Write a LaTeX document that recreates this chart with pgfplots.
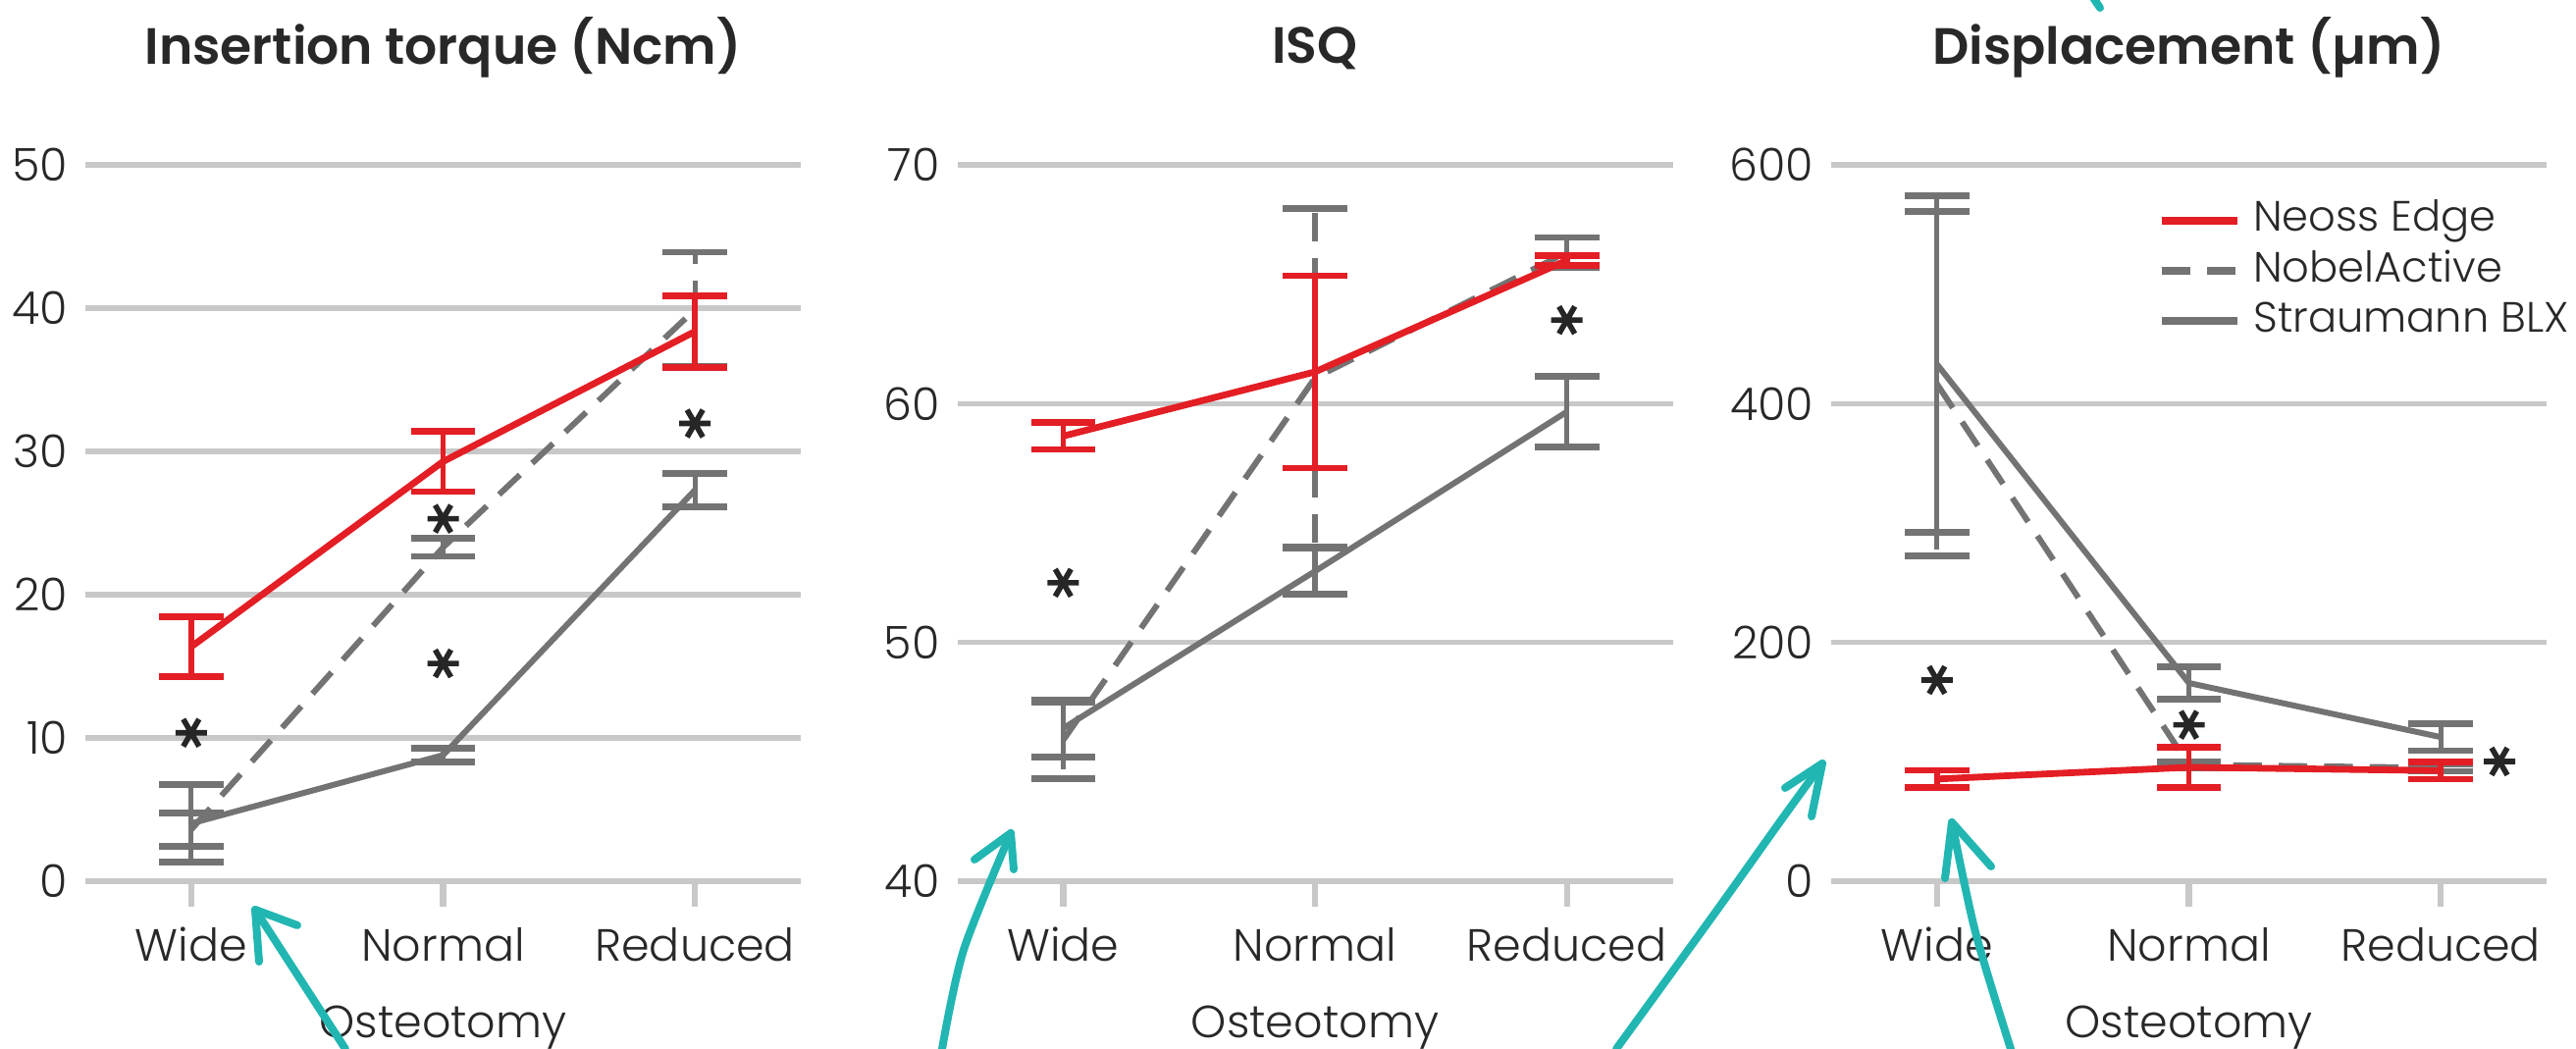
\documentclass[border=0pt]{standalone}
\usepackage{fontspec}
\setmainfont{Poppins}[UprightFont=* Light, BoldFont=* SemiBold]
\usepackage{pgfplots}
\pgfplotsset{compat=1.18}

\definecolor{neossred}{RGB}{227,30,36}
\definecolor{sgray}{RGB}{115,115,115}
\definecolor{gridgray}{RGB}{200,200,200}
\definecolor{txt}{RGB}{40,40,40}
\definecolor{arrowteal}{RGB}{33,182,178}

\newcommand\ticksize{\fontsize{11.5}{14}\selectfont}
\newcommand\legsize{\fontsize{10.8}{13}\selectfont}
\newcommand\titlesize{\fontsize{13}{16}\selectfont\bfseries}

\pgfplotsset{
  panel/.style={
    scale only axis, width=182.25pt, height=182.5pt,
    xmin=-0.42, xmax=2.42,
    xtick={0,1,2}, xticklabels={Wide,Normal,Reduced},
    axis line style={draw=none},
    ymajorgrids, grid style={line width=1.3pt, gridgray},
    xtick pos=bottom, xtick align=outside, ytick pos=left,
    x tick style={gridgray, line width=1.6pt},
    y tick style={draw=none},
    major tick length=6.5pt,
    tick label style={font=\ticksize, text=txt},
    yticklabel style={anchor=east, inner sep=0pt, xshift=-4.25pt},
    xticklabel style={anchor=base, yshift=-14pt},
    xlabel={Osteotomy},
    xlabel style={at={(axis description cs:0.5,0)}, anchor=base, yshift=-40pt,
                  font=\ticksize, text=txt},
    title style={at={(axis description cs:0.5,1)}, anchor=base, yshift=19.75pt,
                 font=\titlesize, text=txt},
    clip=false,
    /pgf/number format/assume math mode=true,
    anchor=south west,
  },
  neoss/.style={neossred, line width=1.7pt, mark=none,
    error bars/.cd, y dir=both, y explicit,
    error bar style={line width=1.4pt},
    error mark options={rotate=90, mark size=8.2pt, line width=1.7pt}},
  nobel/.style={sgray, line width=1.5pt, mark=none, dash pattern=on 7.3pt off 4.3pt,
    error bars/.cd, y dir=both, y explicit,
    error bar style={line width=1.3pt, dash pattern=on 7.3pt off 4.3pt},
    error mark options={rotate=90, mark size=8.2pt, line width=1.7pt}},
  straumann/.style={sgray, line width=1.5pt, mark=none,
    error bars/.cd, y dir=both, y explicit,
    error bar style={line width=1.3pt},
    error mark options={rotate=90, mark size=8.2pt, line width=1.7pt}},
  stars/.style={only marks, mark=asterisk, black!85,
    mark options={rotate=90, line width=1.4pt, solid}, mark size=4pt, forget plot},
}

\begin{document}
\begin{tikzpicture}
\useasboundingbox (-21.75pt,-42.75pt) rectangle (634.5pt,224.5pt);

% Insertion torque
\begin{axis}[panel, at={(0pt,0pt)}, title={Insertion torque (Ncm)},
  ymin=0, ymax=50, ytick={0,10,20,30,40,50}]
\addplot[straumann] coordinates {(0,4.03) +- (0,2.69) (1,8.8) +- (0,0.5) (2,27.3) +- (0,1.15)};
\addplot[nobel] coordinates {(0,3.6) +- (0,1.15) (1,23.3) +- (0,0.63) (2,39.9) +- (0,4.0)};
\addplot[neoss] coordinates {(0,16.36) +- (0,2.1) (1,29.29) +- (0,2.1) (2,38.37) +- (0,2.5)};
\addplot[stars] coordinates {(0,10.36) (1,25.3) (1,15.2) (2,31.95)};
\end{axis}

% ISQ
\begin{axis}[panel, at={(222.125pt,0pt)}, title={ISQ},
  ymin=40, ymax=70, ytick={40,50,60,70}]
\addplot[straumann] coordinates {(0,46.4) +- (0,1.2) (1,52.98) +- (0,0.95) (2,59.66) +- (0,1.47)};
\addplot[nobel] coordinates {(0,45.9) +- (0,1.6) (1,61.08) +- (0,7.1) (2,66.33) +- (0,0.63)};
\addplot[neoss] coordinates {(0,58.64) +- (0,0.56) (1,61.33) +- (0,4.03) (2,66.0) +- (0,0.2)};
\addplot[stars] coordinates {(0,52.5) (2,63.5)};
\end{axis}

% Displacement
\begin{axis}[panel, at={(444.75pt,0pt)}, title={Displacement (µm)},
  ymin=0, ymax=600, ytick={0,200,400,600},
  reverse legend,
  legend style={at={(0.455,0.952)}, anchor=north west, draw=none, fill=none,
    inner sep=0pt, row sep=2.3pt, column sep=3.2pt, font=\legsize, text=txt,
    nodes={inner sep=0pt, text height=8pt, text depth=2.5pt}},
  legend cell align=left,
  legend image code/.code={\draw[#1, line width=2pt] (0pt,0pt) -- (19.25pt,0pt);}]
\addplot[straumann] coordinates {(0,433) +- (0,141) (1,166) +- (0,13.7) (2,120.7) +- (0,11.4)};
\addplot[nobel] coordinates {(0,416.5) +- (0,144.2) (1,97.5) +- (0,2.3) (2,95) +- (0,3)};
\addplot[neoss] coordinates {(0,85.6) +- (0,7.3) (1,95.4) +- (0,17.1) (2,92.6) +- (0,7.1)};
\addplot[stars] coordinates {(0,168.5) (1,131) (2.233,100.3)};
\legend{Straumann BLX, NobelActive, Neoss Edge}
\end{axis}

% hand-drawn annotation arrows
\begin{scope}[arrowteal, line width=2pt, line cap=round, line join=round]
\draw (66.25pt,-42.75pt) -- (43.25pt,-7.25pt);
\draw (44.25pt,-20.5pt) -- (43.25pt,-7.25pt) -- (54pt,-11.25pt);
\draw plot[smooth] coordinates {(218.25pt,-42.75pt) (223.75pt,-17.5pt) (235.75pt,12.25pt)};
\draw (226.5pt,5.5pt) -- (235.75pt,12.25pt) -- (236.5pt,3pt);
\draw plot[smooth] coordinates {(390pt,-42.75pt) (415.75pt,-7.25pt) (431.25pt,14.5pt) (442.5pt,30pt)};
\draw (433pt,23.75pt) -- (442.5pt,30pt) -- (439.75pt,16.5pt);
\draw plot[smooth] coordinates {(490.5pt,-42.75pt) (481.5pt,-13pt) (475.5pt,15pt)};
\draw (473.75pt,0.75pt) -- (475.5pt,15pt) -- (485.5pt,3.75pt);
\draw (509.5pt,228pt) -- (513.25pt,222.5pt);
\end{scope}
\end{tikzpicture}
\end{document}
